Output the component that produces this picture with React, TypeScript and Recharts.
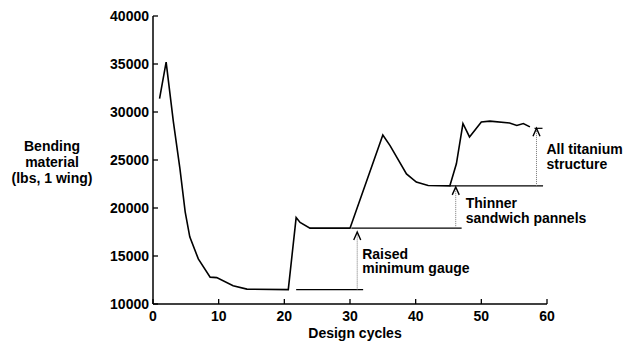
import React from 'react';
import { LineChart, Line, XAxis, YAxis, ReferenceLine } from 'recharts';

// Design cycle (x) and bending material weight (lbs, 1 wing)
const cycles = [1, 2, 3.1, 4.1, 4.9, 5.6, 6.9, 8.7, 9.7, 12.2, 14.3, 20.6, 21.8, 22.4, 23.9, 30, 35, 36.1, 38.6, 40.1, 41.9, 45.2, 46.2, 47.2, 48.2, 50, 51.3, 54.3, 55.4, 56.4, 57.4];
const material = [31400, 35200, 29000, 24100, 19600, 17000, 14700, 12800, 12750, 11900, 11550, 11500, 19000, 18500, 17900, 17900, 27600, 26500, 23550, 22700, 22350, 22300, 24600, 28800, 27400, 28950, 29050, 28850, 28600, 28800, 28450];

const xTicks = [0, 10, 20, 30, 40, 50, 60];
const yTicks = [10000, 15000, 20000, 25000, 30000, 35000, 40000];

// Level lines (baselines) : [xStart, xEnd, level]
const levelStarts = [21.8, 30.2, 45.2];
const levelEnds = [32.0, 47.0, 59.4];
const levelValues = [11500, 17900, 22300];

// Arrows: x position, from level, to level, label lines
const arrowX = [31.1, 46.1, 58.4];
const arrowFrom = [11500, 17900, 22300];
const arrowTo = [17500, 22200, 28300];
const arrowLabels = [
  ['Raised', 'minimum gauge'],
  ['Thinner', 'sandwich pannels'],
  ['All titanium', 'structure'],
];

const data = cycles.map((c, i) => ({ cycle: c, material: material[i] }));

const FONT = "'Liberation Sans', Arial, Helvetica, sans-serif";

// Label offsets relative to the arrow (styling only)
const labelDx = [5, 10, 10];
const labelDy = [26.5, 21.5, 25.7];
const capArrow = [false, false, true];

const YTick = (props: any) => {
  const { x, y, payload } = props;
  return (
    <g>
      <line x1={x} y1={y} x2={x + 5} y2={y} stroke="#000" strokeWidth={1.3} />
      <text x={x - 4} y={y + 5} textAnchor="end" fontFamily={FONT} fontWeight="bold" fontSize={14} fill="#000">
        {payload.value}
      </text>
    </g>
  );
};

const XTick = (props: any) => {
  const { x, y, payload } = props;
  return (
    <g>
      <line x1={x} y1={y} x2={x} y2={y - 5} stroke="#000" strokeWidth={1.3} />
      <text x={x} y={y + 17} textAnchor="middle" fontFamily={FONT} fontWeight="bold" fontSize={14} fill="#000">
        {payload.value}
      </text>
    </g>
  );
};

const makeArrowShape = (i: number) => (props: any) => {
  const { x1, y1, x2, y2 } = props;
  const xb = x1;
  const yBase = Math.max(y1, y2);
  const yTip = Math.min(y1, y2);
  return (
    <g>
      <line x1={xb} y1={yBase} x2={xb} y2={yTip + 1} stroke="#777" strokeWidth={1} strokeDasharray="1 1" />
      <path d={`M ${xb - 3.5} ${yTip + 8} L ${xb} ${yTip} L ${xb + 3.5} ${yTip + 8}`} fill="none" stroke="#000" strokeWidth={1.4} />
      {capArrow[i] && <line x1={xb - 2} y1={yTip} x2={xb + 6} y2={yTip} stroke="#000" strokeWidth={1.2} />}
      <text fontFamily={FONT} fontWeight="bold" fontSize={14} fill="#000">
        {arrowLabels[i].map((t, k) => (
          <tspan key={k} x={xb + labelDx[i]} y={yTip + labelDy[i] + k * 14.5}>
            {t}
          </tspan>
        ))}
      </text>
    </g>
  );
};

export default function App() {
  return (
    <div style={{ position: 'absolute', left: 0, top: 0, width: 634, height: 350, background: '#fff' }}>
      <LineChart width={634} height={350} data={data} margin={{ top: 16, right: 87, bottom: 0, left: 0 }}>
        <XAxis
          dataKey="cycle"
          type="number"
          domain={[0, 60]}
          ticks={xTicks}
          height={46}
          tickSize={0}
          tickMargin={0}
          tickLine={false}
          tick={<XTick />}
          axisLine={{ stroke: '#000', strokeWidth: 1.5 }}
          interval={0}
        />
        <YAxis
          type="number"
          domain={[10000, 40000]}
          ticks={yTicks}
          width={153}
          tickSize={0}
          tickMargin={0}
          tickLine={false}
          tick={<YTick />}
          axisLine={{ stroke: '#000', strokeWidth: 1.5 }}
          interval={0}
        />
        {levelValues.map((v, i) => (
          <ReferenceLine
            key={`lvl${i}`}
            segment={[{ x: levelStarts[i], y: v }, { x: levelEnds[i], y: v }]}
            stroke="#000"
            strokeWidth={1.2}
            ifOverflow="visible"
          />
        ))}
        {arrowX.map((ax, i) => (
          <ReferenceLine
            key={`arr${i}`}
            segment={[{ x: ax, y: arrowFrom[i] }, { x: ax, y: arrowTo[i] }]}
            ifOverflow="visible"
            shape={makeArrowShape(i)}
          />
        ))}
        <Line
          type="linear"
          dataKey="material"
          stroke="#000"
          strokeWidth={1.6}
          dot={false}
          isAnimationActive={false}
        />
      </LineChart>
      <svg width={634} height={350} style={{ position: 'absolute', left: 0, top: 0, pointerEvents: 'none' }}>
        <text textAnchor="middle" fontFamily={FONT} fontWeight="bold" fontSize={14} fill="#000">
          <tspan x={52} y={151}>Bending</tspan>
          <tspan x={52} y={167}>material</tspan>
          <tspan x={52} y={183}>(lbs, 1 wing)</tspan>
        </text>
        <text x={355} y={338} textAnchor="middle" fontFamily={FONT} fontWeight="bold" fontSize={14} fill="#000">
          Design cycles
        </text>
      </svg>
    </div>
  );
}
